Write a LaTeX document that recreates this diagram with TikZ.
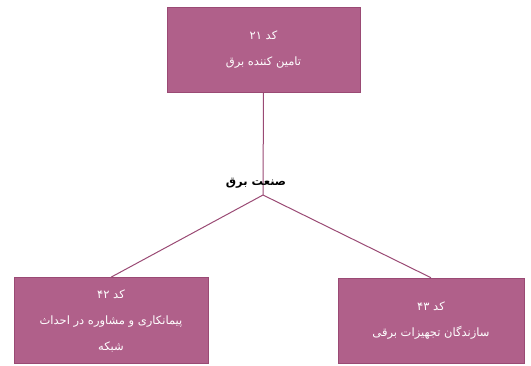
\documentclass[tikz,border=0pt]{standalone}
\usepackage{fontspec}
\newfontfamily\arabicfont[Script=Arabic]{DejaVu Sans}
\TeXXeTstate=1
\definecolor{boxfill}{HTML}{B0608A}
\definecolor{boxline}{HTML}{9A4A74}
\begin{document}
\begin{tikzpicture}[x=1pt,y=-1pt,
  unitbox/.style={draw=boxline,fill=boxfill,line width=0.6pt,text=white,align=center,
    font=\arabicfont\fontsize{11.5}{26}\selectfont,inner sep=2pt},
  link/.style={draw=boxline,line width=1pt}]
\useasboundingbox (0,0) rectangle (531,365);
\node[unitbox,minimum width=193pt,minimum height=85pt] (top) at (263.5,50) {\beginR کد ۲۱\endR\\\beginR تامین کننده برق\endR};
\node[unitbox,minimum width=194pt,minimum height=86pt] (left) at (111,320.5) {\beginR کد ۴۲\endR\\\beginR پیمانکاری و مشاوره در احداث\endR\\\beginR شبکه\endR};
\node[unitbox,minimum width=186pt,minimum height=85pt] (right) at (431,320.5) {\beginR کد ۴۳\endR\\\beginR سازندگان تجهیزات برقی\endR};
\coordinate (hub) at (263,195);
\draw[link] (top.south) -- (hub);
\draw[link] (hub) -- (left.north);
\draw[link] (hub) -- (right.north);
\node[font=\arabicfont\bfseries\fontsize{11.5}{13}\selectfont,inner sep=0pt] (lab) at (256,183) {\beginR صنعت برق\endR};
\end{tikzpicture}
\end{document}
